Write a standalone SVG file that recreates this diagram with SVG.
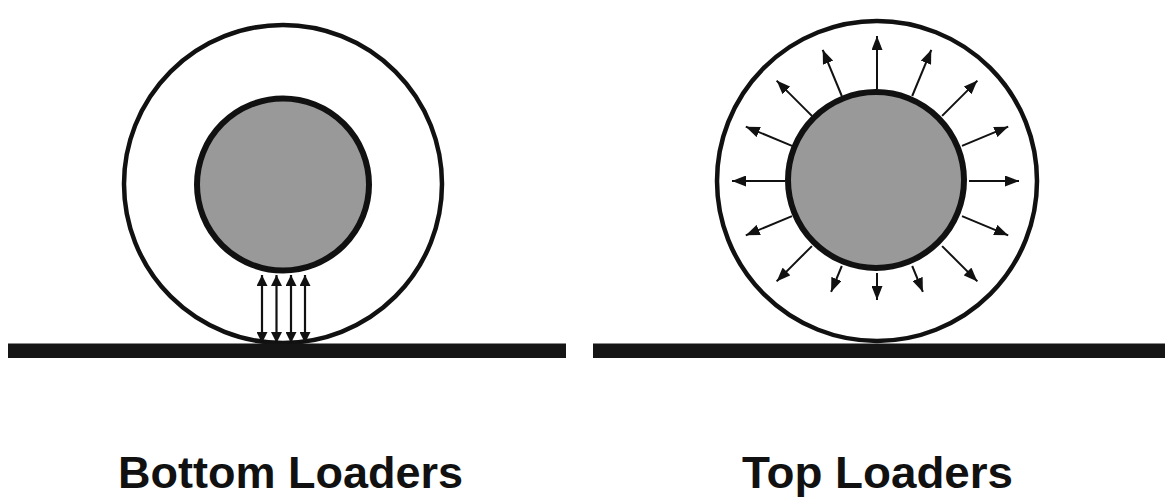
<svg xmlns="http://www.w3.org/2000/svg" width="1165" height="499" viewBox="0 0 1165 499">
  <style>
    .outer { fill: #ffffff; stroke: #111111; stroke-width: 4.5; }
    .inner { fill: #999999; stroke: #111111; stroke-width: 6; }
    .ground { fill: #151515; }
    .arrow { stroke: #111111; stroke-width: 2; fill: none; marker-end: url(#ah); }
    .darrow { stroke: #111111; stroke-width: 2.2; fill: none; marker-start: url(#ah2); marker-end: url(#ah2); }
    .label { font-family: "Liberation Sans", Arial, sans-serif; font-weight: bold; font-size: 45px; fill: #111111; }
  </style>
  <defs>
    <marker id="ah" markerUnits="userSpaceOnUse" markerWidth="14" markerHeight="11" refX="14" refY="5.5" orient="auto">
      <path d="M0,0 L14,5.5 L0,11 z" fill="#111111"/>
    </marker>
    <marker id="ah2" markerUnits="userSpaceOnUse" markerWidth="11" markerHeight="11" refX="11" refY="5.5" orient="auto-start-reverse">
      <path d="M0,0 L11,5.5 L0,11 z" fill="#111111"/>
    </marker>
  </defs>
  <rect width="1165" height="499" fill="#ffffff"/>

  <g id="bottom-loader">
    <circle class="outer" cx="283" cy="184" r="159"/>
    <circle class="inner" cx="283" cy="184.5" r="86"/>
    <rect id="ground-left" class="ground" x="8" y="343.5" width="558" height="14.5"/>
  </g>

  <g id="top-loader">
    <circle class="outer" cx="877" cy="181" r="160"/>
    <circle class="inner" cx="876" cy="180" r="88"/>
    <rect id="ground-right" class="ground" x="593" y="343.5" width="572" height="14.5"/>
  </g>

  <g id="connectors">
    <line class="darrow" x1="262" y1="275" x2="262" y2="343"/>
    <line class="darrow" x1="276.5" y1="275" x2="276.5" y2="343"/>
    <line class="darrow" x1="291" y1="275" x2="291" y2="343"/>
    <line class="darrow" x1="305" y1="275" x2="305" y2="343"/>

    <line class="arrow" x1="969" y1="181" x2="1019" y2="181"/>
    <line class="arrow" x1="962" y1="145.8" x2="1008.2" y2="126.7"/>
    <line class="arrow" x1="942.1" y1="115.9" x2="977.4" y2="80.6"/>
    <line class="arrow" x1="912.2" y1="96" x2="931.3" y2="49.8"/>
    <line class="arrow" x1="877" y1="89" x2="877" y2="36"/>
    <line class="arrow" x1="841.8" y1="96" x2="822.7" y2="49.8"/>
    <line class="arrow" x1="811.9" y1="115.9" x2="776.6" y2="80.6"/>
    <line class="arrow" x1="792" y1="145.8" x2="745.8" y2="126.7"/>
    <line class="arrow" x1="785" y1="181" x2="732" y2="181"/>
    <line class="arrow" x1="792" y1="216.2" x2="745.8" y2="235.3"/>
    <line class="arrow" x1="811.9" y1="246.1" x2="776.6" y2="281.4"/>
    <line class="arrow" x1="841.8" y1="266" x2="831.1" y2="291.9"/>
    <line class="arrow" x1="877" y1="273" x2="877" y2="300"/>
    <line class="arrow" x1="912.2" y1="266" x2="922.9" y2="291.9"/>
    <line class="arrow" x1="942.1" y1="246.1" x2="977.4" y2="281.4"/>
    <line class="arrow" x1="962" y1="216.2" x2="1008.2" y2="235.3"/>
  </g>

  <g id="labels">
    <text class="label" x="118" y="488" textLength="345" lengthAdjust="spacingAndGlyphs">Bottom Loaders</text>
    <text class="label" x="742" y="488" textLength="271" lengthAdjust="spacingAndGlyphs">Top Loaders</text>
  </g>
</svg>
